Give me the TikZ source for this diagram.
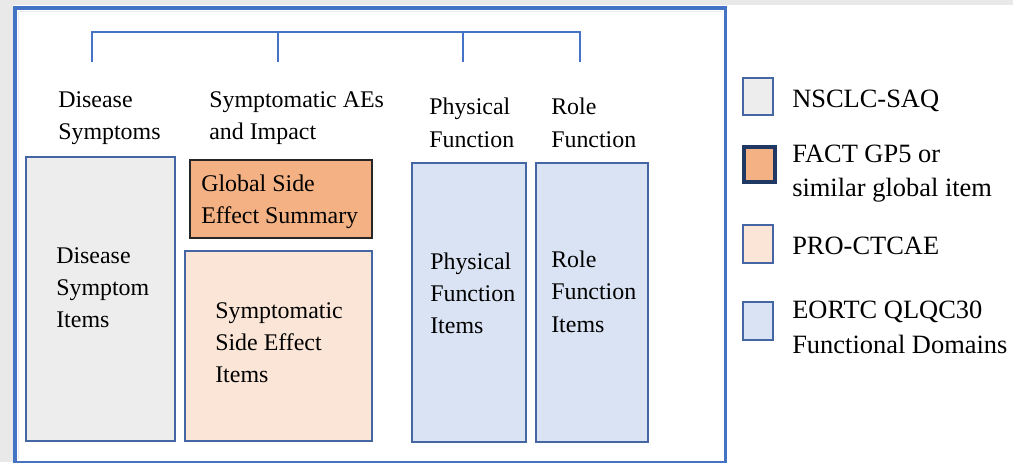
\documentclass[tikz,border=0pt]{standalone}
\usepackage{fontspec}
\setmainfont{Liberation Serif}
\newfontfamily\timesfam{Liberation Serif}
\usetikzlibrary{fit}
\definecolor{pagegray}{HTML}{E9E9E9}
\definecolor{framebl}{HTML}{4472C4}
\definecolor{edgebl}{HTML}{4466A3}
\definecolor{saqgray}{HTML}{EDEDED}
\definecolor{factorg}{HTML}{F4B183}
\definecolor{ctcae}{HTML}{FBE5D6}
\definecolor{qlqblue}{HTML}{DAE3F3}
\definecolor{navyedge}{HTML}{1F3864}
\begin{document}
\begin{tikzpicture}[x=0.025cm, y=-0.025cm,
    lbl/.style={anchor=west, align=left, inner sep=0pt, font=\timesfam\fontsize{17pt}{22.8pt}\selectfont},
    legtxt/.style={anchor=west, align=left, inner sep=0pt, font=\timesfam\fontsize{18.8pt}{24.5pt}\selectfont},
    colbox/.style={draw=edgebl, line width=1.3pt, inner sep=0pt},
    keybox/.style={draw=edgebl, line width=1.3pt, inner sep=0pt}]
    % Achtergrond
    \useasboundingbox (0,0) rectangle (1013,462);
    \fill[white] (0,0) rectangle (1013,462);
    \fill[pagegray] (0,0) rectangle (1013,5);
    \fill[pagegray] (0,0) rectangle (13,462);
    \draw[black!8, line width=1.2pt] (18.5,11.5) -- (722,11.5);
    \draw[black!8, line width=1.2pt] (18.5,11.5) -- (18.5,459);
    \draw[framebl, line width=2.8pt] (15,8) rectangle (725.5,462.5);

    % Haak boven de kolommen
    \coordinate (top) at (0,32);
    \coordinate (t1) at (92,62);
    \coordinate (t2) at (278,62);
    \coordinate (t3) at (463,62);
    \coordinate (t4) at (580,62);
    \draw[framebl, line width=0.8pt] (t1) -- (t1 |- top) -- (t4 |- top) -- (t4);
    \draw[framebl, line width=0.8pt] (t2) -- (t2 |- top);
    \draw[framebl, line width=0.8pt] (t3) -- (t3 |- top);

    % Kolomkoppen
    \node[lbl] (dishead) at (58,118.6) {Disease\\Symptoms};
    \node[lbl] (symhead) at (209,118.5) {Symptomatic AEs\\and Impact};
    \node[lbl] (phyhead) at (429,122.8) {Physical\\Function};
    \node[lbl] (rolhead) at (551,122.8) {Role\\Function};

    % Kolommen
    \node[colbox, fill=saqgray, fit={(26,157) (175,441)}] (disbox) {};
    \node[draw=black!85, line width=1.8pt, inner sep=0pt, fill=factorg, fit={(190,160) (372,238)}] (globox) {};
    \node[colbox, fill=ctcae, fit={(185,251) (372,441)}] (sebox) {};
    \node[colbox, fill=qlqblue, fit={(412,163) (526,442)}] (phybox) {};
    \node[colbox, fill=qlqblue, fit={(536,163) (648,442)}] (rolbox) {};

    \node[lbl] (distxt) at (56,287.5) {Disease\\Symptom\\Items};
    \node[lbl] (glotxt) at (201,201.9) {Global Side\\Effect Summary};
    \node[lbl] (setxt) at (215,342.3) {Symptomatic\\Side Effect\\Items};
    \node[lbl] (phytxt) at (430,293.3) {Physical\\Function\\Items};
    \node[lbl] (roltxt) at (551,291.8) {Role\\Function\\Items};

    % Legenda
    \node[keybox, fill=saqgray, fit={(743,78) (773,115)}] (key1) {};
    \node[draw=navyedge, line width=2.2pt, inner sep=0pt, fill=factorg, fit={(744,147) (775,182)}] (key2) {};
    \node[keybox, fill=ctcae, fit={(743,225) (773,263)}] (key3) {};
    \node[keybox, fill=qlqblue, fit={(743,302) (773,340)}] (key4) {};

    \node[legtxt] (leg1) at (792,100.8) {NSCLC-SAQ};
    \node[legtxt] (leg2) at (792,173.4) {FACT GP5 or\\similar global item};
    \node[legtxt] (leg3) at (792,246) {PRO-CTCAE};
    \node[legtxt] (leg4) at (792,327.5) {EORTC QLQC30\\Functional Domains};
\end{tikzpicture}
\end{document}
